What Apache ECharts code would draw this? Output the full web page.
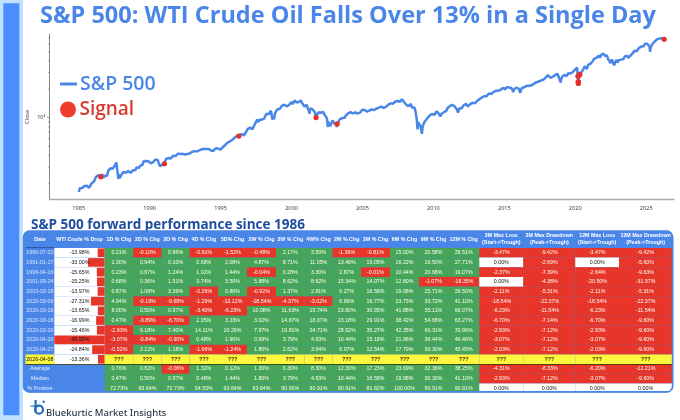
<!DOCTYPE html>
<html>
<head>
<meta charset="utf-8">
<style>html,body{margin:0;padding:0;background:#fff}#c{width:680px;height:420px}</style>
<script src="https://cdn.jsdelivr.net/npm/echarts@6/dist/echarts.min.js"></script>
</head>
<body>
<div id="c"></div>
<script>
// ---------- S&P 500 closes (month ends from Jan 1985) ----------
const firstYear = 1985;
const monthlyClose = [
179.63,181.18,180.66,179.83,189.55,191.85,190.92,188.63,182.08,189.82,202.17,211.28,
211.78,226.92,238.90,235.52,247.35,250.84,236.12,252.93,231.32,243.98,249.22,242.17,
274.08,284.20,291.70,288.36,290.10,304.00,318.66,329.80,321.83,251.79,230.30,247.08,
257.07,267.82,258.89,261.33,262.16,273.50,272.02,261.52,271.91,278.97,273.70,277.72,
297.47,288.86,294.87,309.64,320.52,317.98,346.08,351.45,349.15,340.36,345.99,353.40,
329.08,331.89,339.94,330.80,361.23,358.02,356.15,322.56,306.05,304.00,322.22,330.22,
343.93,367.07,375.22,375.34,389.83,371.16,387.81,395.43,387.86,392.46,375.22,417.09,
408.79,412.70,403.69,414.95,415.35,408.14,424.21,414.03,417.80,418.68,431.35,435.71,
438.78,443.38,451.67,440.19,450.19,450.53,448.13,463.56,458.93,467.83,461.79,466.45,
481.61,467.14,445.77,450.91,456.50,444.27,458.26,475.49,462.69,472.35,453.69,459.27,
470.42,487.39,500.71,514.71,533.40,544.75,562.06,561.88,584.41,581.50,605.37,615.93,
636.02,640.43,645.50,654.17,669.12,670.63,639.95,651.99,687.31,705.27,757.02,740.74,
786.16,790.82,757.12,801.34,848.28,885.14,954.31,899.47,947.28,914.62,955.40,970.43,
980.28,1049.34,1101.75,1111.75,1090.82,1133.84,1120.67,957.28,1017.01,1098.67,1163.63,1229.23,
1279.64,1238.33,1286.37,1335.18,1301.84,1372.71,1328.72,1320.41,1282.71,1362.93,1388.91,1469.25,
1394.46,1366.42,1498.58,1452.43,1420.60,1454.60,1430.83,1517.68,1436.51,1429.40,1314.95,1320.28,
1366.01,1239.94,1160.33,1249.46,1255.82,1224.38,1211.23,1133.58,1040.94,1059.78,1139.45,1148.08,
1130.20,1106.73,1147.39,1076.92,1067.14,989.82,911.62,916.07,815.28,885.76,936.31,879.82,
855.70,841.15,848.18,916.92,963.59,974.50,990.31,1008.01,995.97,1050.71,1058.20,1111.92,
1131.13,1144.94,1126.21,1107.30,1120.68,1140.84,1101.72,1104.24,1114.58,1130.20,1173.82,1211.92,
1181.27,1203.60,1180.59,1156.85,1191.50,1191.33,1234.18,1220.33,1228.81,1207.01,1249.48,1248.29,
1280.08,1280.66,1294.87,1310.61,1270.09,1270.20,1276.66,1303.82,1335.85,1377.94,1400.63,1418.30,
1438.24,1406.82,1420.86,1482.37,1530.62,1503.35,1455.27,1473.99,1526.75,1549.38,1481.14,1468.36,
1378.55,1330.63,1322.70,1385.59,1400.38,1280.00,1267.38,1282.83,1166.36,968.75,896.24,903.25,
825.88,735.09,797.87,872.81,919.14,919.32,987.48,1020.62,1057.08,1036.19,1095.63,1115.10,
1073.87,1104.49,1169.43,1186.69,1089.41,1030.71,1101.60,1049.33,1141.20,1183.26,1180.55,1257.64,
1286.12,1327.22,1325.83,1363.61,1345.20,1320.64,1292.28,1218.89,1131.42,1253.30,1246.96,1257.60,
1312.41,1365.68,1408.47,1397.91,1310.33,1362.16,1379.32,1406.58,1440.67,1412.16,1416.18,1426.19,
1498.11,1514.68,1569.19,1597.57,1630.74,1606.28,1685.73,1632.97,1681.55,1756.54,1805.81,1848.36,
1782.59,1859.45,1872.34,1883.95,1923.57,1960.23,1930.67,2003.37,1972.29,2018.05,2067.56,2058.90,
1994.99,2104.50,2067.89,2085.51,2107.39,2063.11,2103.84,1972.18,1920.03,2079.36,2080.41,2043.94,
1940.24,1932.23,2059.74,2065.30,2096.95,2098.86,2173.60,2170.95,2168.27,2126.15,2198.81,2238.83,
2278.87,2363.64,2362.72,2384.20,2411.80,2423.41,2470.30,2471.65,2519.36,2575.26,2647.58,2673.61,
2823.81,2713.83,2640.87,2648.05,2705.27,2718.37,2816.29,2901.52,2913.98,2711.74,2760.17,2506.85,
2704.10,2784.49,2834.40,2945.83,2750.52,2941.76,2980.38,2926.46,2976.74,3037.56,3140.98,3230.78,
3225.52,2954.22,2584.59,2912.43,3044.31,3100.29,3271.12,3500.31,3363.00,3269.96,3621.63,3756.07,
3714.24,3811.15,3972.89,4181.17,4204.11,4297.50,4395.26,4522.68,4307.54,4605.38,4567.00,4766.18,
4515.55,4373.94,4530.41,4131.93,4132.15,3785.38,4130.29,3955.00,3585.62,3871.98,4080.11,3839.50,
4076.60,3970.15,4109.31,4169.48,4179.83,4450.38,4588.96,4507.66,4288.05,4193.80,4567.80,4769.83,
4845.65,5096.27,5254.35,5035.69,5277.51,5460.48,5522.30,5648.40,5762.48,5705.45,6032.38,5881.63,
6040.53,5954.50,5611.85,5569.06,5911.69,6204.95,6339.39,6460.26,6688.46,6840.20,6849.09,6845.50,
6939,6880,6650
];
// turning points between month ends
const swingDates = ['1985-01-04','1985-01-20','1987-08-25','1987-10-19','1990-07-16','1990-10-11','1998-07-17','1998-10-08','2000-03-24','2000-09-01','2001-04-04','2001-09-21','2002-07-23','2002-10-09','2003-03-11','2007-10-09','2008-11-20','2009-03-09','2010-07-02','2011-04-29','2011-10-03','2015-08-25','2016-02-11','2018-12-24','2020-02-19','2020-03-23','2022-01-03','2022-10-12','2025-02-19','2025-04-08','2026-04-08'];
const swingClose = [163.68,171.32,336.77,224.84,368.95,295.46,1186.75,959.44,1527.46,1520.77,1103.25,965.80,797.70,776.76,800.73,1565.15,752.44,676.53,1022.58,1363.61,1099.23,1867.61,1829.08,2351.10,3386.15,2237.40,4796.56,3577.03,6144.15,4982.77,6750];

// ---------- Signals ----------
const signalDates = ['1986-07-22','1991-01-17','1996-04-16','2001-09-24','2003-03-18','2020-03-09','2020-03-16','2020-03-18','2020-03-20','2020-04-20','2020-04-27','2026-04-08'];
const signalClose = [238,326,640,1003,860,2747,2386,2398,2305,2823,2878,6750];

// ---------- Table ----------
const headers = ['Date','WTI Crude % Drop','1D % Chg','2D % Chg','3D % Chg','4D % Chg','5D% Chg','2W % Chg','3W % Chg','4W% Chg','2M % Chg','3M % Chg','6M % Chg','9M % Chg','12M % Chg','3M Max Loss\n(Start->Trough)','3M Max Drawdown\n(Peak->Trough)','12M Max Loss\n(Start->Trough)','12M Max Drawdown\n(Peak->Trough)'];
const wtiDrop = [-13.98,-33.00,-15.65,-15.25,-13.97,-27.31,-13.65,-16.99,-15.46,-99.95,-24.84,-13.36];
const forward = [
[0.21,-0.10,0.86,-0.91,-1.52,-0.48,2.17,3.50,-1.36,-0.81,15.00,20.58,29.51,-3.47,-9.42,-3.47,-9.42],
[1.30,0.94,0.10,0.68,2.08,4.87,8.71,11.05,13.46,19.05,16.22,19.50,27.71,0.00,-2.69,0.00,-5.60],
[0.23,0.67,1.24,1.02,1.44,-0.04,0.28,3.30,2.87,-0.01,10.44,20.68,19.07,-2.37,-7.39,-2.64,-9.63],
[0.68,0.36,1.51,3.74,3.50,5.88,8.62,8.62,15.34,14.07,12.80,-1.07,-18.35,0.00,-4.38,-20.50,-31.97],
[0.87,1.08,3.39,-0.26,0.86,-0.92,1.37,2.81,6.27,16.58,19.98,25.71,29.50,-2.11,-5.31,-2.11,-5.31],
[4.94,-0.19,-9.68,-1.29,-13.12,-18.54,-4.37,-3.02,6.69,16.77,23.75,33.72,41.10,-18.54,-22.37,-18.54,-22.37],
[8.00,0.50,0.97,-3.40,-6.23,10.08,11.63,15.74,23.80,30.95,41.88,55.11,66.07,-6.23,-11.54,-6.23,-11.54],
[0.47,-3.89,-6.70,2.05,3.23,3.02,14.67,18.07,23.18,29.91,38.42,54.68,63.27,-6.70,-7.14,-6.70,-9.60],
[-2.93,6.18,7.40,14.11,10.26,7.97,19.81,24.71,28.92,35.27,42.35,60.31,70.96,-2.93,-7.12,-2.93,-9.60],
[-3.07,-0.84,-0.90,0.48,1.96,0.69,3.79,4.63,10.44,15.18,21.96,36.44,46.46,-3.07,-7.12,-3.07,-9.60],
[-0.52,2.12,1.18,-1.66,-1.24,1.80,2.62,3.94,6.07,12.54,17.79,30.30,45.45,-2.03,-7.12,-2.03,-9.60]
];
const summaryLabels = ['Average','Median','% Positive'];
const average = [0.76,0.62,-0.06,1.32,0.12,1.30,6.30,8.30,12.30,17.23,23.69,32.36,38.25,-4.31,-8.33,-6.20,-12.21];
const median = [0.47,0.50,0.97,0.48,1.44,1.80,3.79,4.63,10.44,16.58,19.98,30.30,41.10,-2.93,-7.12,-3.07,-9.60];
const pctPositive = [72.73,63.64,72.73,54.55,63.64,63.64,90.91,90.91,90.91,81.82,100.00,90.91,90.91,0.00,0.00,0.00,0.00];
const yMajorTicks = [1000];
const yMinorTicks = [200,300,400,500,600,700,800,900,2000,3000,4000,5000,6000,7000];
const xYearTicks = [1985,1990,1995,2000,2005,2010,2015,2020,2025];

// ---------- Style ----------
const BLUE='#4a86e8', RED='#e8352a', GREEN='#46a558', YELLOW='#fdf63f', DARKBLUE='#1e4d9f';
const colEdges=[25.5,54.3,104.7,133.2,161.6,189.6,218,247,276,304.5,332.5,361,390,419,448,479.3,523.3,575.3,619,672.2];
const HEAD=-1.744, LASTROW=14.78;   // table rows: header above 0, 15 body rows
const X_MIN=1982.94, X_MAX=2026.96;

// calendar date -> fractional year for the x axis
function yearOf(d){
  const [y,m,day]=d.split('-').map(Number);
  return y+(m-1)/12+(day-1)/365;
}

const pts=[];
monthlyClose.forEach((v,i)=>{
  const y=firstYear+Math.floor(i/12), m=String(i%12+1).padStart(2,'0');
  pts.push([yearOf(y+'-'+m+'-28'),v]);
});
swingDates.forEach((d,i)=>pts.push([yearOf(d),swingClose[i]]));
pts.sort((a,b)=>a[0]-b[0]);

const cells=[];
function cell(col,row,text,o){cells.push(Object.assign({col,row,text},o));}
const fmt=v=>v.toFixed(2)+'%';
function valueCell(col,row,v){
  cell(col,row,fmt(v),v===0?{fill:'#fff',color:'#111'}:{fill:v<0?RED:GREEN,color:'#f6fff6'});
}
headers.forEach((h,i)=>cell(i,HEAD,h,{h:-HEAD,color:'#fff',bold:true}));
wtiDrop.forEach((w,r)=>{
  const future=r===forward.length;
  cell(0,r,signalDates[r],future?{fill:YELLOW,color:'#111',bold:false}:{color:'#d6e4ff'});
  cell(1,r,fmt(w),{fill:'#fff',color:'#111',bar:w});
  for(let c=0;c<17;c++){
    if(future) cell(c+2,r,'???',{fill:YELLOW,color:'#332f00',bold:true});
    else valueCell(c+2,r,forward[r][c]);
  }
});
[average,median,pctPositive].forEach((arr,k)=>{
  const r=12+k;
  cell(0,r,summaryLabels[k],{color:'#e3ecff',size:5.4});
  arr.forEach((v,c)=>valueCell(c+2,r,v));
});

function renderCell(params,api){
  const c=cells[params.dataIndex];
  const x0=colEdges[c.col],x1=colEdges[c.col+1];
  const rowEnd=Math.min(c.row+(c.h||1),LASTROW);
  const p0=api.coord([x0,c.row]),p1=api.coord([x1,rowEnd]);
  const ch=[];
  if(c.fill) ch.push({type:'rect',shape:{x:p0[0],y:p0[1],width:p1[0]-p0[0],height:p1[1]-p0[1]},style:{fill:c.fill}});
  if(c.bar!==undefined){
    const left=api.coord([x1-(x1-x0)*Math.abs(c.bar)/100,c.row]);
    ch.push({type:'rect',shape:{x:left[0],y:p0[1]+0.5,width:p1[0]-left[0],height:p1[1]-p0[1]-1},style:{fill:RED}});
  }
  const mid=api.coord([(x0+x1)/2,c.row+(c.h||1)/2]);
  ch.push({type:'text',style:{text:c.text,x:mid[0],y:mid[1],align:'center',verticalAlign:'middle',fill:c.color,
    font:(c.bold?'bold ':'')+(c.size||5.3)+'px "Liberation Sans"',lineHeight:7}});
  return {type:'group',children:ch};
}

const chart=echarts.init(document.getElementById('c'),null,{renderer:'canvas'});
const titleFont='"Open Sans"';
chart.setOption({
  animation:false,
  backgroundColor:'#fff',
  title:[
    {text:'S&P 500: WTI Crude Oil Falls Over 13% in a Single Day',left:35,top:-1,textStyle:{fontFamily:titleFont,fontWeight:700,fontSize:23.5,color:BLUE}},
    {text:'S&P 500 forward performance since 1986',left:26,top:213.5,textStyle:{fontFamily:titleFont,fontWeight:700,fontSize:13.5,color:DARKBLUE}},
    {text:'Bluekurtic Market Insights',left:41,top:403,textStyle:{fontFamily:'"Noto Sans"',fontWeight:500,fontSize:9.5,color:'#2b3a4a'}}
  ],
  legend:[
    {data:['S&P 500'],left:55,top:69,itemWidth:17,itemHeight:3,icon:'rect',itemGap:4,textStyle:{color:BLUE,fontFamily:titleFont,fontWeight:600,fontSize:19.5,padding:[0,0,0,-2]}},
    {data:['Signal'],left:55,top:95,itemWidth:17,itemHeight:16,icon:'circle',textStyle:{color:'#d93a30',fontFamily:titleFont,fontWeight:600,fontSize:19,padding:[0,0,0,-2]},itemStyle:{color:'#ee3d2f',opacity:1}}
  ],
  grid:[
    {left:49.5,top:34.3,width:624.5,height:165.2,containLabel:false},
    {left:25.5,top:231,width:646.7,height:162.2,containLabel:false}
  ],
  xAxis:[
    {type:'value',gridIndex:0,min:X_MIN,max:X_MAX,splitLine:{show:false},
     axisLine:{onZero:false,lineStyle:{color:'#aaaaaa',width:1.4}},axisTick:{show:false},
     axisLabel:{customValues:xYearTicks,formatter:v=>String(Math.round(v)),fontSize:5.6,color:'#333',margin:5.5,fontFamily:'"Open Sans"',hideOverlap:false}},
    {type:'value',gridIndex:1,min:25.5,max:672.2,show:false}
  ],
  yAxis:[
    {type:'log',logBase:10,gridIndex:0,min:136.6,max:7612,name:'Close',nameLocation:'middle',nameRotate:90,nameGap:19.5,nameMoveOverlap:false,
     nameTextStyle:{fontSize:5.6,color:'#333',fontFamily:'"Open Sans"'},splitLine:{show:false},
     axisLine:{show:true,lineStyle:{color:'#666',width:0.8}},
     axisTick:{show:true,customValues:yMajorTicks,length:2.5,lineStyle:{color:'#666',width:0.6}},
     axisLabel:{customValues:yMajorTicks,formatter:()=>'10³',fontSize:5.6,color:'#333',margin:4,fontFamily:'"Open Sans"'}},
    {type:'value',gridIndex:1,min:HEAD,max:15,inverse:true,show:false}
  ],
  graphic:[
    {type:'rect',z:1,silent:true,shape:{x:0,y:0,width:23,height:420},style:{fill:'#bfe0ff'}},
    {type:'rect',z:2,silent:true,shape:{x:3.3,y:3.3,width:16,height:412},style:{fill:'#4a8dff'}},
    {type:'rect',z:1,silent:true,shape:{x:23.2,y:231,width:650,height:161.5,r:6},style:{fill:BLUE}},
    {type:'rect',z:50,silent:true,shape:{x:23.6,y:231,width:649,height:161,r:6},style:{fill:null,stroke:BLUE,lineWidth:1.6}},
    {type:'rect',z:40,silent:true,shape:{x:25.5,y:364,width:646.7,height:0.8},style:{fill:'#333300'}},
    {type:'rect',z:40,silent:true,shape:{x:25.5,y:247.4,width:29,height:0.7},style:{fill:'#1d3f7a'}},
    // logo
    {type:'rect',z:5,silent:true,shape:{x:30.5,y:405.3,width:7,height:1.8},style:{fill:'#5aa5dc'}},
    {type:'rect',z:5,silent:true,shape:{x:34.5,y:400,width:2.2,height:12},style:{fill:'#1f6fc0'}},
    {type:'circle',z:5,silent:true,shape:{cx:39,cy:409.7,r:4},style:{fill:null,stroke:'#1f6fc0',lineWidth:2.2}},
    {type:'circle',z:5,silent:true,shape:{cx:43.7,cy:401.7,r:1.2},style:{fill:'#1f6fc0'}}
  ],
  series:[
    {name:'S&P 500',type:'line',xAxisIndex:0,yAxisIndex:0,data:pts,showSymbol:false,smooth:false,lineStyle:{color:BLUE,width:2.5},itemStyle:{color:BLUE},z:3,silent:true},
    {name:'Signal',type:'scatter',xAxisIndex:0,yAxisIndex:0,data:signalDates.map((d,i)=>[yearOf(d),signalClose[i]]),symbolSize:5.2,itemStyle:{color:'#df3228',opacity:1},z:4,silent:true},
    {name:'minorTicks',type:'custom',xAxisIndex:0,yAxisIndex:0,silent:true,z:3,clip:false,
     data:yMinorTicks.map(v=>[X_MIN,v]),
     renderItem:(p,api)=>{const q=api.coord([api.value(0),api.value(1)]);
       return {type:'line',shape:{x1:q[0],y1:q[1],x2:q[0]-1.5,y2:q[1]},style:{stroke:'#666',lineWidth:0.5}};}},
    {name:'table',type:'custom',xAxisIndex:1,yAxisIndex:1,silent:true,z:10,clip:false,
     data:cells.map(c=>[colEdges[c.col],c.row]),renderItem:renderCell}
  ]
});
</script>
</body>
</html>
